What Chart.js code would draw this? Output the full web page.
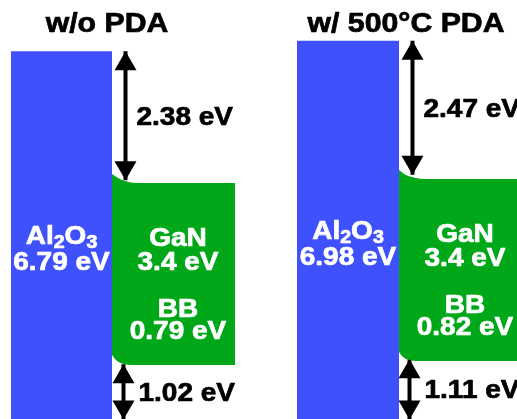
<!DOCTYPE html>
<html>
<head>
<meta charset="utf-8">
<script src="https://cdn.jsdelivr.net/npm/chart.js@4"></script>
<style>
html,body{margin:0;padding:0;background:#fff}
#wrap{width:517px;height:419px;position:relative}
</style>
</head>
<body>
<div id="wrap"><canvas id="bands"></canvas></div>
<script>
// energies in eV
const panelTitles = ["w/o PDA", "w/ 500°C PDA"]
const oxideGap = [6.79, 6.98]
const ganGap = [3.4, 3.4]
const cbOffset = [2.38, 2.47]
const vbOffset = [1.02, 1.11]
const bandBending = [0.79, 0.82]

// layer extents along the (schematic) distance axis
const oxideLeft = [0.22, 5.94]
const interfaceX = [2.24, 7.98]
const ganRight = [4.70, 10.34]
const cbArrowX = [2.51, 8.25]
const vbArrowX = [2.47, 8.19]

// drawn GaN band edges near the interface
const cbEdgeX = [[2.24, 2.36, 2.50, 2.74, 4.70], [7.98, 8.12, 8.24, 8.46, 10.34]]
const cbEdgeE = [[4.525, 4.452, 4.396, 4.359, 4.359], [4.599, 4.507, 4.470, 4.433, 4.433]]
const vbEdgeX = [[2.24, 2.32, 2.44, 2.66, 4.70], [7.98, 8.06, 8.18, 8.36, 10.34]]
const vbEdgeE = [[1.189, 1.097, 1.032, 1.005, 1.005], [1.244, 1.152, 1.097, 1.078, 1.078]]

const BLUE = "#3f51fd"
const GREEN = "#00a819"
const FONT = '"Liberation Sans", Arial, sans-serif'
const STRETCH = 1.12

function pts(xs, es){
  return xs.map((v,i)=>({x:v, y:es[i]}))
}

let datasets = []
for(let p=0;p<2;p++){
  // oxide block, filled down to the bottom of the plot
  datasets.push({
    data:[{x:oxideLeft[p], y:oxideGap[p]}, {x:interfaceX[p], y:oxideGap[p]}],
    borderWidth:0, pointRadius:0, fill:"start", backgroundColor:BLUE
  })
  // GaN conduction edge filled to the valence edge
  datasets.push({
    data:pts(cbEdgeX[p], cbEdgeE[p]),
    borderWidth:0, pointRadius:0, fill:"+1", backgroundColor:GREEN,
    cubicInterpolationMode:"monotone"
  })
  datasets.push({
    data:pts(vbEdgeX[p], vbEdgeE[p]),
    borderWidth:0, pointRadius:0, fill:false,
    cubicInterpolationMode:"monotone"
  })
  // offset arrows
  datasets.push({
    arrow:true,
    data:[{x:cbArrowX[p], y:oxideGap[p]}, {x:cbArrowX[p], y:oxideGap[p]-cbOffset[p]}],
    borderColor:"#000", borderWidth:4, pointRadius:0, fill:false
  })
  datasets.push({
    arrow:true,
    data:[{x:vbArrowX[p], y:0}, {x:vbArrowX[p], y:vbOffset[p]}],
    borderColor:"#000", borderWidth:4, pointRadius:0, fill:false
  })
}

function drawPiece(ctx, s, x, y, font, color){
  ctx.save()
  ctx.font = font
  ctx.fillStyle = color
  ctx.strokeStyle = color
  ctx.lineWidth = 0.7
  ctx.lineJoin = "round"
  ctx.translate(x, y)
  ctx.scale(STRETCH, 1)
  ctx.fillText(s, 0, 0)
  ctx.strokeText(s, 0, 0)
  ctx.restore()
}

function txt(ctx, text, x, y, size, color, align){
  ctx.save()
  ctx.textBaseline = "alphabetic"
  ctx.textAlign = align
  drawPiece(ctx, text, x, y + size*0.358, "bold "+size+"px "+FONT, color)
  ctx.restore()
}

// Al2O3 with subscripts, centred on x
function formula(ctx, x, y, size){
  let parts = [["Al",0],["2",1],["O",0],["3",1]]
  ctx.save()
  ctx.textBaseline = "alphabetic"
  ctx.textAlign = "left"
  let w = 0
  for(const [s,sub] of parts){
    ctx.font = "bold "+(sub ? size*0.7 : size)+"px "+FONT
    w += ctx.measureText(s).width*STRETCH
  }
  let cx = x - w/2
  for(const [s,sub] of parts){
    const f = "bold "+(sub ? size*0.7 : size)+"px "+FONT
    drawPiece(ctx, s, cx, y + size*0.358 + (sub ? size*0.16 : 0), f, "#fff")
    ctx.font = f
    cx += ctx.measureText(s).width*STRETCH
  }
  ctx.restore()
}

const annotate = {
  id:"annotate",
  afterDatasetsDraw(chart){
    const ctx = chart.ctx
    const xs = chart.scales.x, ys = chart.scales.y

    // arrow heads at both ends of every arrow line
    chart.data.datasets.forEach((ds,i)=>{
      if(!ds.arrow) return
      const m = chart.getDatasetMeta(i).data
      for(let k=0;k<2;k++){
        const tip = m[k], other = m[1-k]
        const dir = tip.y < other.y ? 1 : -1
        ctx.beginPath()
        ctx.moveTo(tip.x, tip.y)
        ctx.lineTo(tip.x-11, tip.y+dir*19)
        ctx.lineTo(tip.x+11, tip.y+dir*19)
        ctx.closePath()
        ctx.fillStyle = "#000"
        ctx.fill()
      }
    })

    for(let p=0;p<2;p++){
      // titles
      const tx = [2.14, 8.12][p]
      txt(ctx, panelTitles[p], xs.getPixelForValue(tx), 22, 27, "#000", "center")

      // oxide labels
      const ox = xs.getPixelForValue((oxideLeft[p]+interfaceX[p])/2)
      const oy = ys.getPixelForValue(oxideGap[p]/2)
      formula(ctx, ox, oy, 25)
      txt(ctx, oxideGap[p].toFixed(2)+" eV", ox, oy+26, 25, "#fff", "center")

      // GaN labels
      const gx = xs.getPixelForValue(interfaceX[p]) + 66
      const gy = (ys.getPixelForValue(cbEdgeE[p][4]) + ys.getPixelForValue(vbEdgeE[p][4]))/2
      txt(ctx, "GaN", gx, gy-37, 25, "#fff", "center")
      txt(ctx, ganGap[p]+" eV", gx, gy-13, 25, "#fff", "center")
      txt(ctx, "BB", gx, gy+34, 25, "#fff", "center")
      txt(ctx, bandBending[p].toFixed(2)+" eV", gx, gy+56, 25, "#fff", "center")

      // offset labels
      const cy = (ys.getPixelForValue(oxideGap[p]) + ys.getPixelForValue(oxideGap[p]-cbOffset[p]))/2
      txt(ctx, cbOffset[p].toFixed(2)+" eV", xs.getPixelForValue(cbArrowX[p])+11, cy, 25, "#000", "left")
      const vy = (ys.getPixelForValue(0) + ys.getPixelForValue(vbOffset[p]))/2
      txt(ctx, vbOffset[p].toFixed(2)+" eV", xs.getPixelForValue(vbArrowX[p])+15, vy, 25, "#000", "left")
    }
  }
}

new Chart(document.getElementById("bands"),{
  type:"line",
  data:{datasets:datasets},
  options:{
    responsive:true,
    maintainAspectRatio:false,
    animation:false,
    layout:{padding:0},
    plugins:{legend:{display:false}, tooltip:{enabled:false}},
    scales:{
      x:{type:"linear", min:0, max:10.34, display:false},
      y:{type:"linear", min:0.01, max:7.733, display:false}
    }
  },
  plugins:[annotate]
})
</script>
</body>
</html>
